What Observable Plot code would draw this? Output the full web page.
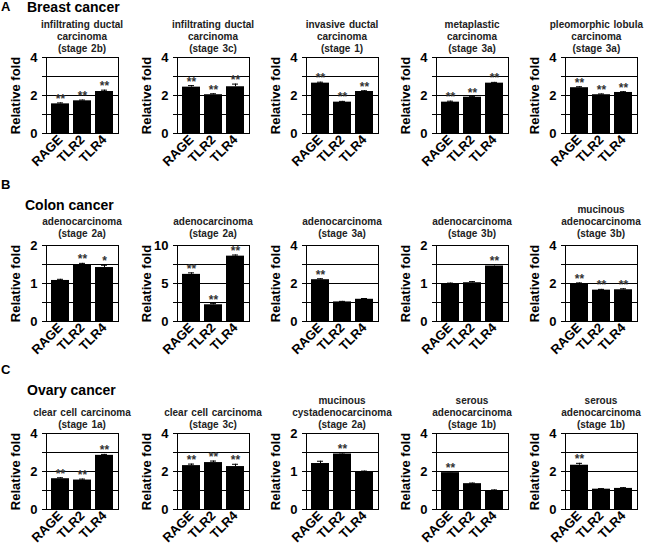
<!DOCTYPE html>
<html><head><meta charset="utf-8">
<script src="https://cdn.jsdelivr.net/npm/d3@7"></script>
<script src="https://cdn.jsdelivr.net/npm/@observablehq/plot@0.6"></script>
<style>
body{margin:0;background:#fff;}
#fig{position:relative;width:645px;height:551px;overflow:hidden;background:#fff;font-family:"Liberation Sans",Arial,sans-serif;}
.abs{position:absolute;white-space:nowrap;}
.sec{font-size:14px;font-weight:bold;line-height:14px;color:#000;}
.lab{font-size:13px;font-weight:bold;line-height:13px;color:#000;}
.ptitle{font-size:10px;font-weight:bold;line-height:12px;color:#222;text-align:center;transform:translateX(-50%);word-spacing:1px;}
</style></head><body><div id="fig"></div>
<script>
// ---------------- data ----------------
const genes = ["RAGE", "TLR2", "TLR4"];

const breastTitles = [
  ["infiltrating ductal", "carcinoma", "(stage 2b)"],
  ["infiltrating ductal", "carcinoma", "(stage 3c)"],
  ["invasive ductal", "carcinoma", "(stage 1)"],
  ["metaplastic", "carcinoma", "(stage 3a)"],
  ["pleomorphic lobula", "carcinoma", "(stage 3a)"]
];
const breastValues = [[1.56, 1.72, 2.21], [2.44, 2.04, 2.46], [2.65, 1.65, 2.21], [1.65, 1.91, 2.65], [2.41, 2.04, 2.16]];
const breastErrors = [[0.05, 0.04, 0.07], [0.08, 0.05, 0.14], [0.05, 0.04, 0.04], [0.05, 0.03, 0.04], [0.05, 0.04, 0.04]];
const breastStars = [["**", "**", "**"], ["**", "**", "**"], ["**", "**", "**"], ["**", "**", "**"], ["**", "**", "**"]];
const breastYMax = [4, 4, 4, 4, 4];

const colonTitles = [
  ["adenocarcinoma", "(stage 2a)"],
  ["adenocarcinoma", "(stage 2a)"],
  ["adenocarcinoma", "(stage 3a)"],
  ["adenocarcinoma", "(stage 3b)"],
  ["mucinous", "adenocarcinoma", "(stage 3b)"]
];
const colonValues = [[1.08, 1.48, 1.42], [6.2, 2.2, 8.6], [2.2, 1.03, 1.17], [1.0, 1.02, 1.46], [1.99, 1.65, 1.67]];
const colonErrors = [[0.03, 0.05, 0.06], [0.2, 0.15, 0.15], [0.05, 0.03, 0.04], [0.01, 0.03, 0.04], [0.04, 0.04, 0.05]];
const colonStars = [["", "**", "*"], ["**", "**", "**"], ["**", "", ""], ["", "", "**"], ["**", "**", "**"]];
const colonYMax = [2, 10, 4, 2, 4];

const ovaryTitles = [
  ["clear cell carcinoma", "(stage 1a)"],
  ["clear cell carcinoma", "(stage 3c)"],
  ["mucinous", "cystadenocarcinoma", "(stage 2a)"],
  ["serous", "adenocarcinoma", "(stage 1b)"],
  ["serous", "adenocarcinoma", "(stage 1b)"]
];
const ovaryValues = [[1.62, 1.55, 2.85], [2.31, 2.47, 2.26], [1.21, 1.46, 1.0], [1.94, 1.36, 1.0], [2.33, 1.07, 1.11]];
const ovaryErrors = [[0.05, 0.05, 0.05], [0.08, 0.08, 0.12], [0.06, 0.03, 0.01], [0.05, 0.03, 0.03], [0.1, 0.03, 0.04]];
const ovaryStars = [["**", "**", "**"], ["**", "**", "**"], ["", "**", ""], ["**", "", ""], ["**", "", ""]];
const ovaryYMax = [4, 4, 2, 4, 4];

const sections = [
  {letter: "A", name: "Breast cancer", titles: breastTitles, values: breastValues, errors: breastErrors, stars: breastStars, ymax: breastYMax},
  {letter: "B", name: "Colon cancer", titles: colonTitles, values: colonValues, errors: colonErrors, stars: colonStars, ymax: colonYMax},
  {letter: "C", name: "Ovary cancer", titles: ovaryTitles, values: ovaryValues, errors: ovaryErrors, stars: ovaryStars, ymax: ovaryYMax}
];

// ---------------- layout ----------------
const frameLefts = [46, 177, 306, 436, 565];
const rowLayout = [
  {frameTop: 57, titleLast: 48.5, letterTop: 0, nameTop: 0, nameLeft: 27},
  {frameTop: 245, titleLast: 234, letterTop: 178, nameTop: 198, nameLeft: 25},
  {frameTop: 433, titleLast: 425, letterTop: 363, nameTop: 383, nameLeft: 27}
];
const ML = 45, MR = 8, MT = 6, MB = 42, FW = 72, FH = 76;
const FONT = "'Liberation Sans', Arial, sans-serif";

function panel(values, errors, stars, ymax) {
  const data = genes.map((g, i) => ({gene: g, value: values[i], err: errors[i], sig: stars[i]}));
  const grid = d3.range(0, 5).map(i => ymax * i / 4);
  const major = [0, ymax / 2, ymax];
  return Plot.plot({
    width: ML + FW + MR, height: MT + FH + MB,
    marginLeft: ML, marginRight: MR, marginTop: MT, marginBottom: MB,
    style: {fontFamily: FONT, fontSize: "13px", fontWeight: "bold", color: "#000", background: "transparent", overflow: "visible"},
    x: {domain: genes, padding: 0.2},
    y: {domain: [0, ymax]},
    marks: [
      Plot.ruleY(grid, {stroke: "#000", strokeWidth: 1}),
      Plot.barY(data, {x: "gene", y: "value", fill: "#000"}),
      Plot.ruleX(data, {x: "gene", y1: "value", y2: d => d.value + d.err, stroke: "#000"}),
      Plot.tickY(data, {x: "gene", y: d => d.value + d.err, stroke: "#000", insetLeft: 6, insetRight: 6}),
      Plot.text(data, {x: "gene", y: d => d.value + d.err, text: "sig", dy: 0, lineAnchor: "bottom", fontSize: 12, fill: "#333"}),
      Plot.frame({stroke: "#000", strokeWidth: 1}),
      Plot.axisY(grid, {tickSize: 4, tickPadding: 5, tickFormat: d => major.includes(d) ? String(d) : "",
        label: "Relative fold", labelAnchor: "center", labelOffset: 36, labelArrow: "none", fontSize: 13}),
      Plot.axisX({tickRotate: -45, tickSize: 0, tickPadding: 4, label: null, fontSize: 13})
    ]
  });
}

const fig = document.getElementById("fig");
function addDiv(cls, text, left, top) {
  const d = document.createElement("div");
  d.className = "abs " + cls;
  d.style.left = left + "px";
  d.style.top = top + "px";
  d.innerHTML = text;
  fig.appendChild(d);
  return d;
}

sections.forEach((s, r) => {
  const L = rowLayout[r];
  addDiv("lab", s.letter, 1, L.letterTop);
  addDiv("sec", s.name, L.nameLeft, L.nameTop);
  s.titles.forEach((lines, i) => {
    const cx = frameLefts[i] + FW / 2;
    const top = L.titleLast + 6 - lines.length * 12;
    const d = addDiv("ptitle", lines.join("<br>"), cx, top);
    // keep the title inside the picture at the right edge
    const rect = d.getBoundingClientRect();
    const over = rect.right - 643;
    if (over > 0) d.style.left = (cx - over) + "px";
    const svg = panel(s.values[i], s.errors[i], s.stars[i], s.ymax[i]);
    svg.style.position = "absolute";
    svg.style.left = (frameLefts[i] - ML) + "px";
    svg.style.top = (L.frameTop - MT) + "px";
    fig.appendChild(svg);
  });
});
</script></body></html>
